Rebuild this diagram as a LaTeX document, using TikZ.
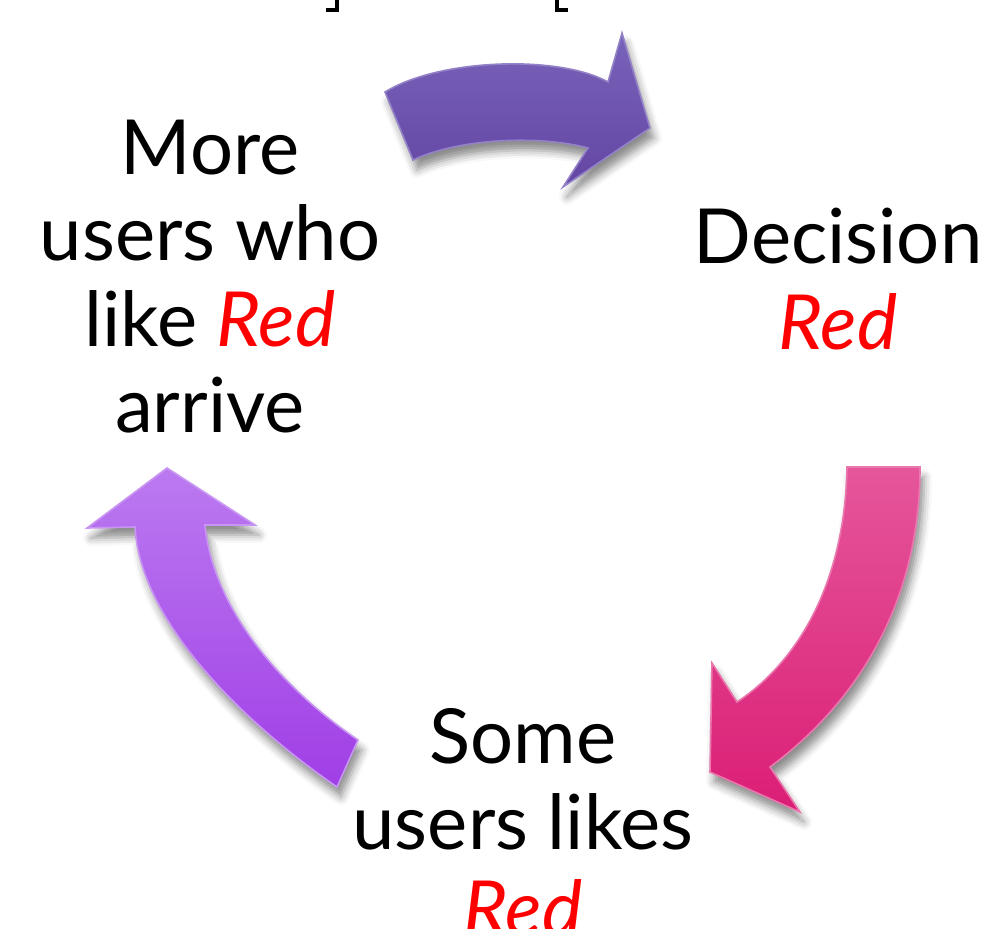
\documentclass[tikz,border=0pt]{standalone}
\usepackage{fontspec}
\setmainfont{Lato}
\usetikzlibrary{shadows.blur}

\definecolor{upviolet}{RGB}{121,99,186}
\definecolor{dnviolet}{RGB}{99,70,163}
\definecolor{uppink}{RGB}{229,86,155}
\definecolor{dnpink}{RGB}{219,30,118}
\definecolor{uplilac}{RGB}{187,122,240}
\definecolor{dnlilac}{RGB}{160,62,230}
\newcommand{\redword}[1]{\textcolor{red}{\itshape #1}}

\begin{document}
\begin{tikzpicture}[x=0.5pt, y=-0.5pt,
	cycletext/.style={align=center, inner sep=0pt, font=\fontsize{38}{43}\selectfont},
	bigarrow/.style={blur shadow={shadow xshift=2pt, shadow yshift=-5pt, shadow blur radius=4pt, shadow opacity=45}, line width=0.8pt}]
\useasboundingbox (0,0) rectangle (988,928);

% bits of the brackets above
\draw[line width=2pt] (326,10) -- (337,10) -- (337,0);
\draw[line width=2pt] (568,10) -- (557,10) -- (557,0);

% the three steps
\node[cycletext] (arrive) at (210,277) {More\\users who\\like \redword{Red}\\arrive};
\node[cycletext] (decide) at (838,279) {Decision\\\redword{Red}};
\node[cycletext] (likes) at (523,822) {Some\\users likes\\\redword{Red}};

% top arrow
\shade[bigarrow, top color=upviolet, bottom color=dnviolet, draw=upviolet!80!white]
	(385,92) .. controls (440,58) and (560,55) .. (608,82)
	-- (622,33) -- (650,128) -- (563,187) -- (588,148)
	.. controls (540,135) and (460,138) .. (413,160) -- cycle;

% right arrow
\shade[bigarrow, top color=uppink, bottom color=dnpink, draw=uppink!80!white]
	(847,467) -- (920,467)
	.. controls (920,600) and (860,700) .. (770,767)
	-- (800,812) -- (710,772) -- (712,663) -- (737,702)
	.. controls (800,660) and (845,580) .. (847,467) -- cycle;

% left arrow
\shade[bigarrow, top color=uplilac, bottom color=dnlilac, draw=uplilac!80!white]
	(337,787) .. controls (240,720) and (140,620) .. (135,527)
	-- (87,528) -- (167,468) -- (255,525) -- (205,525)
	.. controls (212,600) and (270,680) .. (358,740) -- cycle;

\end{tikzpicture}
\end{document}
